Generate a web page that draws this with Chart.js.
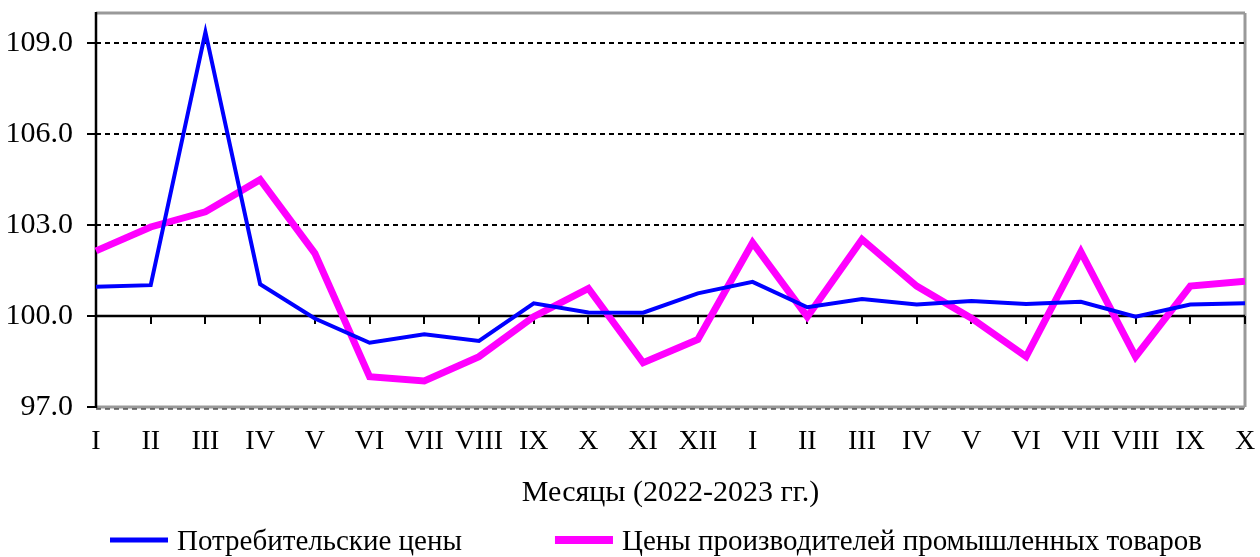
<!DOCTYPE html>
<html><head><meta charset="utf-8">
<script src="https://cdn.jsdelivr.net/npm/chart.js@4"></script>
<style>html,body{margin:0;padding:0;background:#fff}#wrap{width:1260px;height:557px}</style>
</head><body><div id="wrap"><canvas id="c" width="1260" height="557"></canvas></div>
<script>
const categories = ['I','II','III','IV','V','VI','VII','VIII','IX','X','XI','XII','I','II','III','IV','V','VI','VII','VIII','IX','X'];
const consumerPrices = [100.97,101.02,109.37,101.05,99.92,99.12,99.40,99.18,100.42,100.12,100.11,100.75,101.13,100.29,100.56,100.38,100.50,100.40,100.47,99.98,100.38,100.42];
const producerPrices = [102.15,102.94,103.44,104.50,102.07,98.00,97.86,98.66,99.98,100.91,98.46,99.23,102.42,99.98,102.53,100.99,99.93,98.66,102.12,98.66,100.99,101.15];
const yTicks = [97,100,103,106,109];
const yMin = 97, yMax = 110, baseValue = 100;
const seriesNames = ['Потребительские цены','Цены производителей промышленных товаров'];
const axisTitle = 'Месяцы (2022-2023 гг.)';

const FONT = '"Liberation Serif", "Times New Roman", serif';

const gridPlugin = {
  id: 'customGrid',
  beforeDatasetsDraw(chart) {
    const {ctx, chartArea: a, scales: {x, y}} = chart;
    const line = (x1, y1, x2, y2) => { ctx.beginPath(); ctx.moveTo(x1, y1); ctx.lineTo(x2, y2); ctx.stroke(); };
    ctx.save();
    ctx.strokeStyle = '#999'; ctx.lineWidth = 3;
    line(a.left, a.top, a.right, a.top);
    line(a.right, a.top, a.right, a.bottom);
    line(a.left, a.bottom, a.right, a.bottom);
    ctx.strokeStyle = '#000'; ctx.lineWidth = 2; ctx.setLineDash([5, 4]);
    yTicks.forEach(v => {
      if (v === baseValue || v === yMin) return;
      const py = Math.round(y.getPixelForValue(v));
      line(a.left, py, a.right, py);
    });
    ctx.lineWidth = 1.2;
    line(a.left, a.bottom + 2, a.right, a.bottom + 2);
    ctx.setLineDash([]);
    const by = Math.round(y.getPixelForValue(baseValue));
    ctx.lineWidth = 2.5;
    line(a.left, by, a.right, by);
    ctx.lineWidth = 2;
    categories.forEach((c, i) => {
      const px = Math.round(x.getPixelForValue(i));
      line(px, by, px, by + 8);
    });
    ctx.lineWidth = 2.5;
    line(a.left, a.top - 1, a.left, a.bottom + 1);
    ctx.lineWidth = 2;
    yTicks.forEach(v => {
      const py = Math.round(y.getPixelForValue(v));
      line(a.left - 9, py, a.left, py);
    });
    ctx.restore();
  }
};

const legendPlugin = {
  id: 'customLegend',
  afterDraw(chart) {
    const {ctx} = chart;
    ctx.save();
    ctx.font = '29px ' + FONT;
    ctx.textBaseline = 'middle';
    ctx.fillStyle = '#000';
    const cy = 541;
    let xPos = 110;
    const markerW = 58, textGap = 9, itemGap = 93;
    chart.data.datasets.forEach(ds => {
      ctx.strokeStyle = ds.borderColor;
      ctx.lineWidth = ds.borderWidth + 1;
      ctx.beginPath(); ctx.moveTo(xPos, cy - 1); ctx.lineTo(xPos + markerW, cy - 1); ctx.stroke();
      const tx = xPos + markerW + textGap;
      ctx.fillText(ds.label, tx, cy + 1);
      xPos = tx + ctx.measureText(ds.label).width + itemGap;
    });
    ctx.restore();
  }
};

new Chart(document.getElementById('c'), {
  type: 'line',
  data: {
    labels: categories,
    datasets: [
      {label: seriesNames[0], data: consumerPrices, borderColor: '#0000ff', backgroundColor: '#0000ff', borderWidth: 4, pointRadius: 0, tension: 0},
      {label: seriesNames[1], data: producerPrices, borderColor: '#ff00ff', backgroundColor: '#ff00ff', borderWidth: 7, pointRadius: 0, tension: 0}
    ]
  },
  options: {
    responsive: false,
    animation: false,
    devicePixelRatio: 1,
    layout: {padding: {top: 13, right: 15, left: 0, bottom: 42}},
    plugins: {
      tooltip: {enabled: false},
      legend: {display: false}
    },
    scales: {
      x: {
        type: 'category', offset: false,
        grid: {display: false}, border: {display: false},
        afterFit: s => { s.height = 108; s.paddingLeft = 0; s.paddingRight = 0; },
        ticks: {color: '#000', font: {family: FONT, size: 28}, padding: 10, maxRotation: 0, autoSkip: false},
        title: {display: true, text: axisTitle, color: '#000', font: {family: FONT, size: 30}, padding: {top: 4, bottom: 4}}
      },
      y: {
        min: yMin, max: yMax,
        afterBuildTicks: s => { s.ticks = yTicks.map(v => ({value: v})); },
        afterFit: s => { s.width = 96; s.paddingTop = 0; s.paddingBottom = 0; },
        grid: {display: false}, border: {display: false},
        ticks: {color: '#000', font: {family: FONT, size: 30}, padding: 15, callback: v => Number(v).toFixed(1)}
      }
    }
  },
  plugins: [gridPlugin, legendPlugin]
});
</script></body></html>
